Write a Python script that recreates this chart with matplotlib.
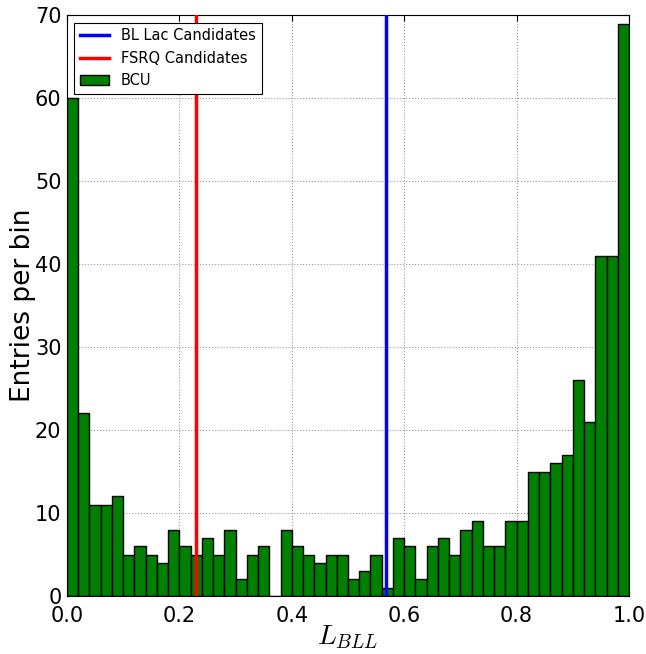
import numpy as np
import matplotlib
matplotlib.use('Agg')
import matplotlib.pyplot as plt

# ---- data ----
bin_edges = np.linspace(0.0, 1.0, 51)
bcu_counts = [60, 22, 11, 11, 12, 5, 6, 5, 4, 8,
              6, 5, 7, 5, 8, 2, 5, 6, 0, 8,
              6, 5, 4, 5, 5, 2, 3, 5, 1, 7,
              6, 2, 6, 7, 5, 8, 9, 6, 6, 9,
              9, 15, 15, 16, 17, 26, 21, 41, 41, 69]
bllac_cut = 0.567
fsrq_cut = 0.23

plt.rcParams['mathtext.fontset'] = 'cm'
plt.rcParams['xtick.direction'] = 'in'
plt.rcParams['ytick.direction'] = 'in'

fig = plt.figure(figsize=(6.46, 6.54), dpi=100)
ax = fig.add_axes([0.1037, 0.0887, 0.87, 0.888])

ax.bar(bin_edges[:-1], bcu_counts, width=np.diff(bin_edges), align='edge',
       color='green', edgecolor='black', linewidth=1.0, label='BCU', zorder=2)
ax.axvline(bllac_cut, color='blue', linewidth=2.5, label='BL Lac Candidates', zorder=3)
ax.axvline(fsrq_cut, color='red', linewidth=2.5, label='FSRQ Candidates', zorder=3)

ax.set_xlim(0, 1)
ax.set_ylim(0, 70)
ax.set_xticks(np.arange(0, 1.01, 0.2))
ax.set_yticks(np.arange(0, 71, 10))
ax.tick_params(labelsize=15, length=4, top=True, right=True)
ax.tick_params(axis='x', pad=7)
ax.tick_params(axis='y', pad=4)
ax.grid(True, color='#9a9a9a', linestyle=':', linewidth=0.8, zorder=0)
ax.set_axisbelow(True)

ax.set_xlabel('$L_{BLL}$', fontsize=20, labelpad=-2)
ax.set_ylabel('Entries per bin', fontsize=19, labelpad=-1)

leg = ax.legend(loc='upper left', fontsize=10.5, fancybox=False,
                framealpha=1, edgecolor='black')
leg.get_frame().set_linewidth(0.8)

fig.savefig('out.png', dpi=100)
